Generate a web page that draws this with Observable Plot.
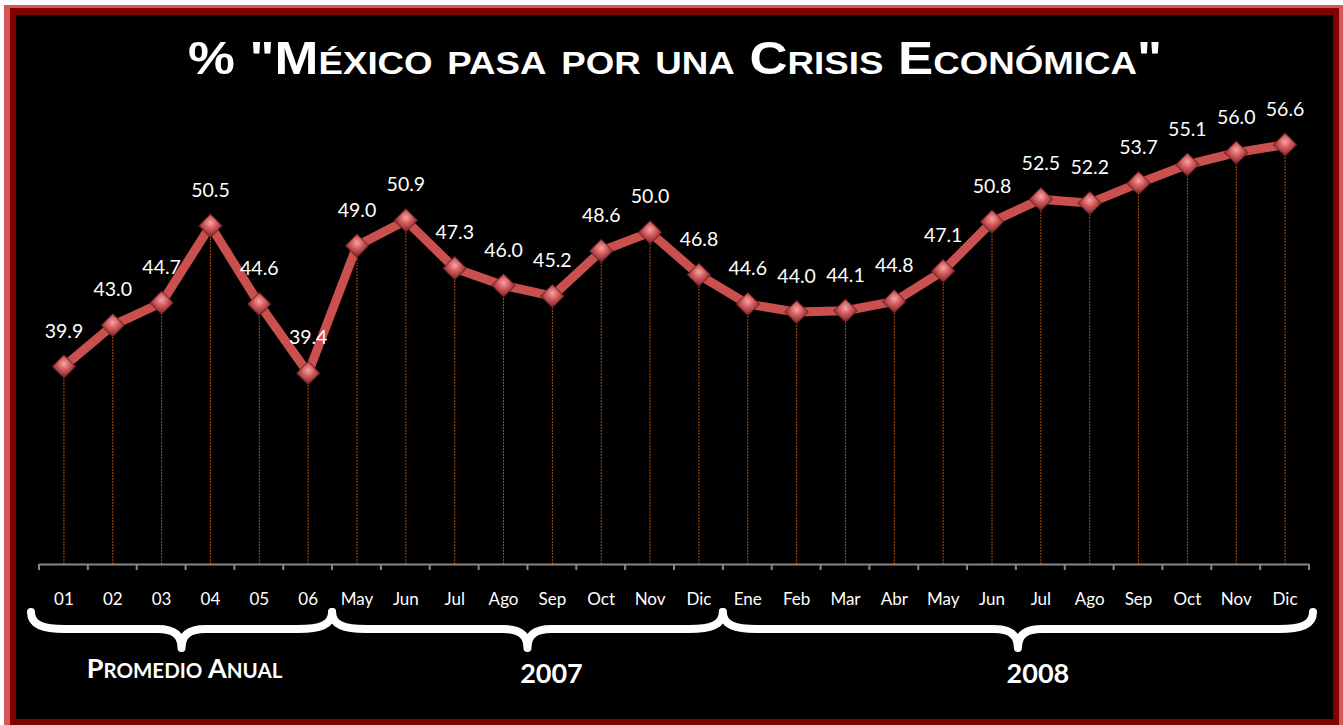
<!DOCTYPE html>
<html><head><meta charset="utf-8">
<script src="https://cdn.jsdelivr.net/npm/d3@7"></script>
<script src="https://cdn.jsdelivr.net/npm/@observablehq/plot@0.6"></script>
<style>body{margin:0;background:#fff;} svg{display:block}</style>
</head><body><div id="chart"></div>
<script>
// ---- data ----
const labels = ["01","02","03","04","05","06","May","Jun","Jul","Ago","Sep","Oct","Nov","Dic","Ene","Feb","Mar","Abr","May","Jun","Jul","Ago","Sep","Oct","Nov","Dic"];
const values = [39.9,43.0,44.7,50.5,44.6,39.4,49.0,50.9,47.3,46.0,45.2,48.6,50.0,46.8,44.6,44.0,44.1,44.8,47.1,50.8,52.5,52.2,53.7,55.1,56.0,56.6];
const groupLabels = ["Promedio Anual", "2007", "2008"];
const groupStart = [0, 6, 14];
const groupEnd = [5, 13, 25];
const title = '% "México pasa por una Crisis Económica"';

const data = values.map((v, i) => ({i, v, label: labels[i]}));
const idx = d3.range(labels.length);

const FONT = "Lato, 'Open Sans', sans-serif";
const AX0 = 39, AX1 = 1309;            // axis extent (px)

function smallCaps(textSel, str, big, small) {
  let buf = "", isSmall = null;
  const flush = () => {
    if (!buf) return;
    textSel.append("tspan").attr("font-size", isSmall ? small : big).text(buf);
    buf = "";
  };
  for (const ch of str) {
    const s = ch !== ch.toUpperCase();
    if (isSmall !== null && s !== isSmall) flush();
    isSmall = s;
    buf += s ? ch.toUpperCase() : ch;
  }
  flush();
}

const frame = () => {
  const g = d3.create("svg:g");
  const defs = g.append("defs");
  const rg = defs.append("radialGradient").attr("id", "mk").attr("cx", "50%").attr("cy", "38%").attr("r", "62%");
  rg.append("stop").attr("offset", "0%").attr("stop-color", "#f6a4a4");
  rg.append("stop").attr("offset", "45%").attr("stop-color", "#cf5659");
  rg.append("stop").attr("offset", "100%").attr("stop-color", "#6e2424");
  g.append("rect").attr("x", 4).attr("y", 5).attr("width", 1345).attr("height", 730).attr("fill", "#d65757");
  g.append("rect").attr("x", 10).attr("y", 8).attr("width", 1329).attr("height", 725).attr("fill", "#800000");
  g.append("rect").attr("x", 16).attr("y", 15).attr("width", 1317).attr("height", 704).attr("fill", "#000");
  const t = g.append("text").attr("x", 675).attr("y", 74).attr("text-anchor", "middle")
    .attr("fill", "#fff").attr("font-family", "'Liberation Sans', Arial, sans-serif").attr("font-weight", "bold")
    .attr("textLength", 974).attr("lengthAdjust", "spacingAndGlyphs");
  smallCaps(t, title, 46, 32);
  return g.node();
};

const decor = (index, {x, y}) => {
  const g = d3.create("svg:g");
  const step = x(1) - x(0);
  const y0 = y(25);
  for (let k = 0; k <= labels.length; k++) {
    const bx = x(0) - step / 2 + k * step;
    g.append("line").attr("x1", bx).attr("x2", bx).attr("y1", y0).attr("y2", y0 + 6)
      .attr("stroke", "#868686").attr("stroke-width", 2);
  }
  const dxs = [3, 24, 20];
  groupLabels.forEach((lab, j) => {
    const x0 = x(groupStart[j]) - step / 2 - (j === 0 ? 8 : 0);
    const x1 = x(groupEnd[j]) + step / 2 + (j === groupLabels.length - 1 ? 4 : 0);
    const xm = (x0 + x1) / 2;
    const top = 612, mid = 629, tip = 648;
    const p = `M${x0},${top} C${x0},${mid - 4} ${x0 + 12},${mid} ${x0 + 34},${mid}` +
      ` L${xm - 24},${mid} C${xm - 8},${mid} ${xm},${mid + 6} ${xm},${tip}` +
      ` C${xm},${mid + 6} ${xm + 8},${mid} ${xm + 24},${mid}` +
      ` L${x1 - 34},${mid} C${x1 - 12},${mid} ${x1},${mid - 4} ${x1},${top}`;
    g.append("path").attr("d", p).attr("fill", "none").attr("stroke", "#fff")
      .attr("stroke-width", 8).attr("stroke-linecap", "round").attr("stroke-linejoin", "round");
    const t = g.append("text").attr("x", xm + dxs[j]).attr("y", j === 0 ? 678 : 683)
      .attr("text-anchor", "middle").attr("fill", "#fff").attr("font-family", FONT)
      .attr("font-weight", "bold");
    if (j === 0) smallCaps(t, lab, 27, 20.5);
    else t.attr("font-size", 27).text(lab);
  });
  return g.node();
};

const chart = Plot.plot({
  width: 1343,
  height: 725,
  marginTop: 99,
  marginBottom: 161,
  marginLeft: AX0,
  marginRight: 1343 - AX1,
  style: {background: "transparent", fontFamily: FONT, color: "#fff"},
  x: {type: "point", domain: idx, padding: 0.5, round: false, axis: null},
  y: {domain: [25, 60], axis: null},
  marks: [
    frame,
    Plot.ruleX(data, {x: "i", y1: 25, y2: "v", stroke: "#a9500c", strokeWidth: 1, strokeDasharray: "2 1"}),
    Plot.ruleY([25], {stroke: "#868686", strokeWidth: 2}),
    decor,
    Plot.text(data, {x: "i", y: 25, text: "label", dy: 40, lineAnchor: "bottom", fill: "#fff", fontSize: 17}),
    Plot.line(data, {x: "i", y: "v", stroke: "#c9504e", strokeWidth: 9, strokeLinejoin: "round"}),
    Plot.dot(data, {x: "i", y: "v", symbol: "diamond2", r: 10.5, fill: "url(#mk)", stroke: "#5a1c1c", strokeOpacity: 0.5, strokeWidth: 1.5}),
    Plot.text(data, {x: "i", y: "v", text: d => d.v.toFixed(1), dy: -29, lineAnchor: "bottom", fill: "#fff", fontSize: 19.5})
  ]
});
document.getElementById("chart").appendChild(chart);
</script>
</body></html>
